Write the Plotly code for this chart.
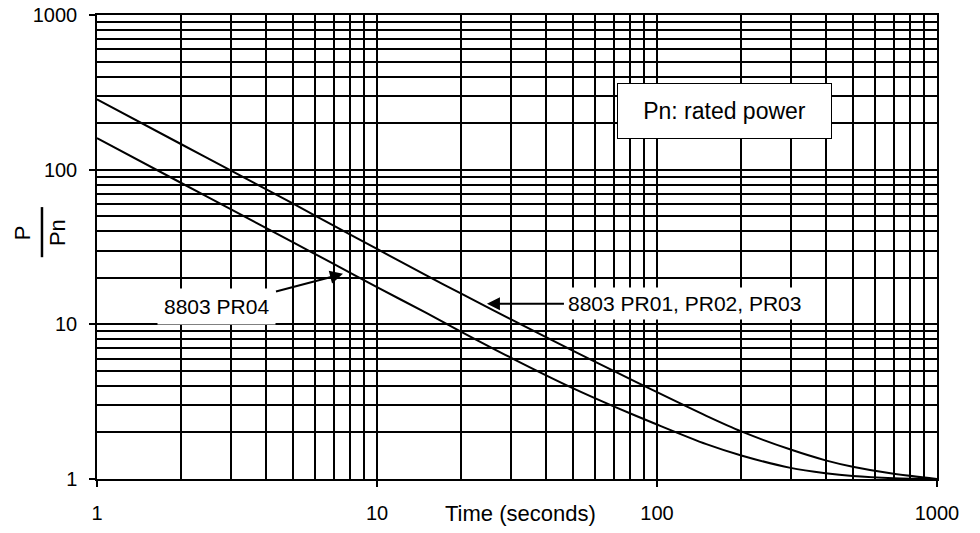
import math
import plotly.graph_objects as go

# ---- data ----
time_s = [1, 2, 3, 5, 7, 10, 15, 20, 30, 50, 70, 100, 150, 200, 300, 400, 500, 700, 1000]
pr01_03 = [285, 146, 99, 60.5, 43.5, 30.7, 20.7, 15.8, 10.8, 6.75, 5.0, 3.64, 2.56, 2.03, 1.55, 1.32, 1.2, 1.08, 1.0]
pr04 = [160, 82, 55.5, 34, 24.6, 17.4, 11.85, 8.95, 6.1, 3.87, 2.95, 2.25, 1.68, 1.42, 1.18, 1.09, 1.045, 1.012, 1.0]

major_ticks = [1, 10, 100, 1000]
major_labels = ["1", "10", "100", "1000"]
minor_ticks = [m * d for d in (1, 10, 100) for m in range(2, 10)]

FONT = "Liberation Sans, Arial, sans-serif"

fig = go.Figure()
fig.add_trace(go.Scatter(x=time_s, y=pr01_03, mode="lines", name="8803 PR01, PR02, PR03",
                         line=dict(color="black", width=2, shape="spline", smoothing=0.8)))
fig.add_trace(go.Scatter(x=time_s, y=pr04, mode="lines", name="8803 PR04",
                         line=dict(color="black", width=2, shape="spline", smoothing=0.8)))

axis_common = dict(
    type="log", automargin=False, ticklabeloverflow="allow",
    showgrid=True, gridcolor="black", gridwidth=1.5,
    showline=True, linecolor="black", linewidth=1.5, mirror=True,
    ticks="outside", ticklen=6, tickcolor="black", tickwidth=1.5,
    tickvals=major_ticks, ticktext=major_labels,
    minor=dict(tickvals=minor_ticks, showgrid=True, gridcolor="black", gridwidth=1.5, ticks=""),
    tickfont=dict(family=FONT, size=20, color="black"),
    zeroline=False,
)

fig.update_xaxes(**axis_common, range=[0, 3], ticklabelstandoff=9)
fig.update_yaxes(**axis_common, range=[0, 3], ticklabelstandoff=8)

annotations = [
    # axis title
    dict(text="Time (seconds)", xref="paper", yref="paper", x=0.5036, y=-0.0733,
         xanchor="center", yanchor="middle",
         showarrow=False, font=dict(family=FONT, size=22, color="black")),
    # y title P / Pn
    dict(text="P", xref="paper", yref="paper", x=-0.0893, y=0.532, textangle=-90,
         xanchor="center", yanchor="middle",
         showarrow=False, font=dict(family=FONT, size=22, color="black")),
    dict(text="Pn", xref="paper", yref="paper", x=-0.0476, y=0.530, textangle=-90,
         xanchor="center", yanchor="middle",
         showarrow=False, font=dict(family=FONT, size=22, color="black")),
    # legend-like box
    dict(text="Pn: rated power", xref="paper", yref="paper", x=0.747, y=0.793,
         xanchor="center", yanchor="middle",
         showarrow=False, font=dict(family=FONT, size=23, color="black"),
         bgcolor="white", bordercolor="black", borderwidth=1, borderpad=3,
         width=207, height=48),
    # arrow labels
    dict(text="8803 PR04", xref="x", yref="y", x=math.log10(7.56), y=math.log10(21.2),
         ax=-126, ay=33, showarrow=True, arrowhead=2, arrowsize=1.3, arrowwidth=2,
         arrowcolor="black", bgcolor="white", borderpad=6,
         font=dict(family=FONT, size=21, color="black")),
    dict(text="8803 PR01, PR02, PR03", xref="x", yref="y", x=math.log10(24.7), y=math.log10(13.6),
         ax=198, ay=0, showarrow=True, arrowhead=2, arrowsize=1.3, arrowwidth=2,
         arrowcolor="black", bgcolor="white", borderpad=4,
         font=dict(family=FONT, size=21, color="black")),
]

fig.update_layout(
    width=980, height=533,
    margin=dict(l=97, r=43, t=15, b=54),
    paper_bgcolor="white", plot_bgcolor="white",
    showlegend=False,
    annotations=annotations,
    shapes=[dict(type="line", xref="paper", yref="paper", x0=-0.0655, x1=-0.0655,
                 y0=0.478, y1=0.586, line=dict(color="black", width=2.5))],
)

# remove the default page margin so the figure sits at the window's corner
fig.write_html("out.html", config={"displayModeBar": False},
               post_script="document.body.style.margin='0px';")
